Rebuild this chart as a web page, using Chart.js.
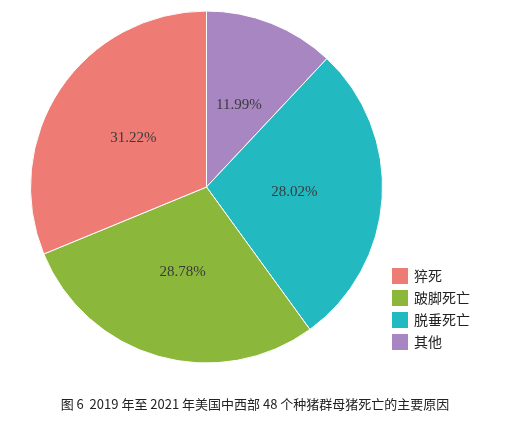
<!DOCTYPE html>
<html>
<head>
<meta charset="utf-8">
<script src="https://cdn.jsdelivr.net/npm/chart.js@4/dist/chart.umd.min.js"></script>
<style>
	html, body { margin: 0; padding: 0; background: #fff; }
	#wrap { width: 510px; height: 426px; position: relative; }
</style>
</head>
<body>
<div id="wrap"><canvas id="pie"></canvas></div>
<script>
// clockwise from 12 o'clock
const categories = ['其他', '脱垂死亡', '跛脚死亡', '猝死'];
const shares = [11.99, 28.02, 28.78, 31.22];
const colors = ['#a886c1', '#23b9c1', '#8bb83b', '#ef7c74'];
const caption = '图 6  2019 年至 2021 年美国中西部 48 个种猪群母猪死亡的主要原因';

const labelPlugin = {
	id: 'labels',
	afterDatasetsDraw(chart) {
		const ctx = chart.ctx;
		const meta = chart.getDatasetMeta(0);
		ctx.save();
		ctx.font = '15px "Liberation Serif"';
		ctx.textAlign = 'center';
		ctx.textBaseline = 'middle';
		ctx.fillStyle = '#3a3a3a';
		meta.data.forEach((arc, i) => {
			const p = arc.tooltipPosition();
			ctx.fillText(shares[i].toFixed(2) + '%', p.x, p.y);
		});

		// legend, listed in reverse order
		ctx.font = '14px "Noto Sans CJK SC"';
		ctx.textAlign = 'left';
		const order = [3, 2, 1, 0];
		order.forEach((idx, row) => {
			const y = 276 + row * 22;
			ctx.fillStyle = colors[idx];
			ctx.fillRect(392, y - 8, 16, 16);
			ctx.fillStyle = '#222';
			ctx.fillText(categories[idx], 414, y);
		});

		ctx.font = '13px "Noto Sans CJK SC"';
		ctx.textAlign = 'center';
		ctx.fillStyle = '#222';
		ctx.fillText(caption, 255, 404);
		ctx.restore();
	},
};

new Chart(document.getElementById('pie'), {
	type: 'pie',
	data: {
		labels: categories,
		datasets: [{
			data: shares,
			backgroundColor: colors,
			borderColor: '#ffffff',
			borderWidth: 1,
		}],
	},
	options: {
		responsive: true,
		maintainAspectRatio: false,
		animation: false,
		layout: { padding: { top: 10, bottom: 62, left: 30, right: 127 } },
		plugins: {
			legend: { display: false },
			tooltip: { enabled: false },
		},
	},
	plugins: [labelPlugin],
});
</script>
</body>
</html>
